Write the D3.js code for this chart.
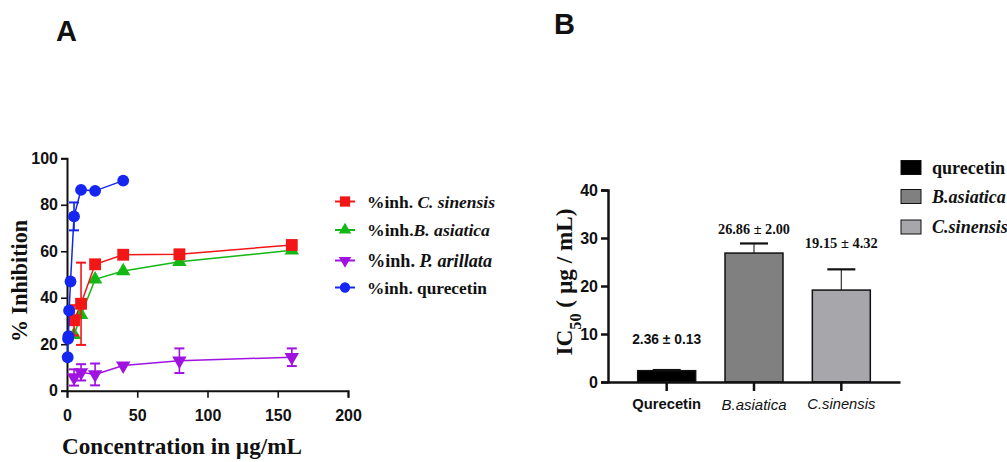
<!DOCTYPE html>
<html>
<head>
<meta charset="utf-8">
<script src="https://cdn.jsdelivr.net/npm/d3@7"></script>
<style>
  body { margin: 0; background: #fff; }
  svg { display: block; }
  .tick text { font-family: 'Liberation Sans Narrow', 'Liberation Sans', Arial, sans-serif; font-weight: bold; font-size: 16px; fill: #111; }
  .serif { font-family: 'Liberation Serif', 'Times New Roman', Times, 'DejaVu Serif', serif; font-weight: bold; fill: #111; }
  .narrow { font-family: 'Liberation Sans Narrow', 'Liberation Sans', Arial, sans-serif; fill: #111; }
</style>
</head>
<body>
<svg id="chart" width="1007" height="462"></svg>
<script>
// ---- panel A data: % inhibition vs concentration ----
const quercetinX = [0.5, 0.75, 1, 1.5, 2.5, 5, 10, 20, 40];
const quercetinY = [14.4, 22.3, 23.5, 34.5, 47, 75, 86.4, 86, 90.4];
const quercetinErr = [0, 0, 0, 0, 0, 6, 0, 0, 0];

const sinensisX = [5, 10, 20, 40, 80, 160];
const sinensisY = [30.3, 37.4, 54.4, 58.5, 58.7, 62.7];
const sinensisErr = [6.5, 17.7, 0, 0, 0, 0];

const asiaticaX = [5, 10, 20, 40, 80, 160];
const asiaticaY = [24, 32.6, 47.9, 51.5, 55.5, 60.4];
const asiaticaErr = [0, 0, 0, 0, 0, 0];

const arillataX = [5, 10, 20, 40, 80, 160];
const arillataY = [5.7, 7.9, 7.0, 10.8, 12.9, 14.4];
const arillataErr = [3.5, 3.5, 4.7, 0, 5.3, 3.8];

const xTicksA = [0, 50, 100, 150, 200];
const yTicksA = [0, 20, 40, 60, 80, 100];

// ---- panel B data: IC50 ----
const ic50Names = ['Qurecetin', 'B.asiatica', 'C.sinensis'];
const ic50Values = [2.36, 26.86, 19.15];
const ic50Err = [0.13, 2.00, 4.32];
const ic50Labels = ['2.36 \u00b1 0.13', '26.86 \u00b1 2.00', '19.15 \u00b1 4.32'];
const ic50Legend = ['qurecetin', 'B.asiatica', 'C.sinensis'];
const yTicksB = [0, 10, 20, 30, 40];

const svg = d3.select('#chart');

// scale the font so the text takes the width it has in the picture
function fit(sel, w) {
  const node = sel.node();
  const fs = parseFloat(sel.style('font-size'));
  const len = node.getComputedTextLength();
  if (len > 0) sel.style('font-size', (fs * w / len).toFixed(2) + 'px');
  return sel;
}

// ================= Panel A =================
const xA = d3.scaleLinear().domain([0, 200]).range([67, 348]);
const yA = d3.scaleLinear().domain([0, 100]).range([390.7, 158.3]);

svg.append('text').attr('x', 56).attr('y', 41)
  .attr('class', 'narrow').style('font-weight', 'bold').style('font-size', '29px').text('A');

const axA = svg.append('g').attr('transform', 'translate(0,390.7)')
  .call(d3.axisBottom(xA).tickValues(xTicksA).tickSize(7).tickPadding(12));
const ayA = svg.append('g').attr('transform', 'translate(67,0)')
  .call(d3.axisLeft(yA).tickValues(yTicksA).tickSize(6).tickPadding(3));
[axA, ayA].forEach(g => {
  g.select('.domain').attr('stroke', '#111').attr('stroke-width', 2);
  g.selectAll('.tick line').attr('stroke', '#111').attr('stroke-width', 1.6);
});

fit(svg.append('text').attr('class', 'serif')
  .attr('transform', 'translate(27,281) rotate(-90)')
  .attr('text-anchor', 'middle').style('font-size', '19px').text('% Inhibition'), 122);

fit(svg.append('text').attr('class', 'serif').attr('x', 182).attr('y', 454)
  .attr('text-anchor', 'middle').style('font-size', '18px').text('Concentration in \u00b5g/mL'), 240);

const seriesA = [
  {xs: sinensisX, ys: sinensisY, err: sinensisErr, color: '#f21616', shape: d3.symbolSquare, size: 140, rot: 0},
  {xs: asiaticaX, ys: asiaticaY, err: asiaticaErr, color: '#14b814', shape: d3.symbolTriangle, size: 90, rot: 0},
  {xs: arillataX, ys: arillataY, err: arillataErr, color: '#a012e0', shape: d3.symbolTriangle, size: 90, rot: 180},
  {xs: quercetinX, ys: quercetinY, err: quercetinErr, color: '#1426f0', shape: d3.symbolCircle, size: 110, rot: 0}
];
// purple, green, red, blue so the overlaps stack as in the reference
[2, 1, 0, 3].forEach(i => {
  const s = seriesA[i];
  const pts = s.xs.map((x, k) => ({x: x, y: s.ys[k], e: s.err[k]}));
  const g = svg.append('g');
  g.append('path').datum(pts)
    .attr('fill', 'none').attr('stroke', s.color).attr('stroke-width', 1.5)
    .attr('d', d3.line().x(d => xA(d.x)).y(d => yA(d.y)));
  pts.filter(d => d.e > 0).forEach(d => {
    const cx = xA(d.x);
    g.append('line').attr('x1', cx).attr('x2', cx)
      .attr('y1', yA(d.y - d.e)).attr('y2', yA(d.y + d.e))
      .attr('stroke', s.color).attr('stroke-width', 1.6);
    [d.y - d.e, d.y + d.e].forEach(v => {
      g.append('line').attr('x1', cx - 5).attr('x2', cx + 5)
        .attr('y1', yA(v)).attr('y2', yA(v))
        .attr('stroke', s.color).attr('stroke-width', 2);
    });
  });
  g.selectAll('path.mk').data(pts).enter().append('path').attr('class', 'mk')
    .attr('d', d3.symbol().type(s.shape).size(s.size))
    .attr('transform', d => `translate(${xA(d.x)},${yA(d.y)}) rotate(${s.rot})`)
    .attr('fill', s.color);
});

// legend A
const legRowsA = [
  {pre: '%inh. ', it: 'C. sinensis', w: 128},
  {pre: '%inh.', it: 'B. asiatica', w: 123},
  {pre: '%inh. ', it: 'P. arillata', w: 125},
  {pre: '%inh. qurecetin', it: '', w: 120}
];
const legY = [201.5, 230, 260.5, 287.5];
legRowsA.forEach((r, i) => {
  const s = seriesA[i];
  const y = legY[i];
  svg.append('line').attr('x1', 335).attr('x2', 355).attr('y1', y).attr('y2', y)
    .attr('stroke', s.color).attr('stroke-width', 2);
  svg.append('path').attr('d', d3.symbol().type(s.shape).size(s.size * 0.75))
    .attr('transform', `translate(345,${y}) rotate(${s.rot})`).attr('fill', s.color);
  const t = svg.append('text').attr('class', 'serif').attr('x', 367).attr('y', y + 6)
    .style('font-size', '17px');
  t.append('tspan').text(r.pre);
  if (r.it) t.append('tspan').style('font-style', 'italic').text(r.it);
  fit(t, r.w);
});

// ================= Panel B =================
svg.append('text').attr('x', 554).attr('y', 33.5)
  .attr('class', 'narrow').style('font-weight', 'bold').style('font-size', '29px').text('B');

const xB = d3.scaleBand().domain(ic50Names).range([608, 900]).paddingInner(0.336).paddingOuter(0.34);
const yB = d3.scaleLinear().domain([0, 40]).range([382, 190]);
const fills = ['#000000', '#808080', '#a7a7ab'];

// bars with upper error bars
ic50Names.forEach((n, i) => {
  const x0 = xB(n), bw = xB.bandwidth(), cx = x0 + bw / 2;
  const top = yB(ic50Values[i] + ic50Err[i]);
  svg.append('line').attr('x1', cx).attr('x2', cx).attr('y1', yB(ic50Values[i])).attr('y2', top)
    .attr('stroke', '#333').attr('stroke-width', 1.2);
  svg.append('line').attr('x1', cx - 14).attr('x2', cx + 14).attr('y1', top).attr('y2', top)
    .attr('stroke', '#111').attr('stroke-width', 2.2);
  svg.append('rect').attr('x', x0).attr('y', yB(ic50Values[i]))
    .attr('width', bw).attr('height', yB(0) - yB(ic50Values[i]))
    .attr('fill', fills[i]).attr('stroke', '#111').attr('stroke-width', 1.5);
});

const axB = svg.append('g').attr('transform', 'translate(0,382)')
  .call(d3.axisBottom(xB).tickSize(9).tickPadding(8).tickSizeOuter(0));
axB.select('.domain').attr('stroke', '#111').attr('stroke-width', 2.5);
axB.selectAll('.tick line').attr('stroke', '#111').attr('stroke-width', 2.5);
const catW = [69, 65, 68];
axB.selectAll('.tick text')
  .style('font-weight', (d, i) => i === 0 ? 'bold' : 'normal')
  .style('font-style', (d, i) => i === 0 ? 'normal' : 'italic')
  .style('font-family', (d, i) => i === 0 ? null : "'Liberation Sans', Arial, sans-serif")
  .style('font-size', '15px')
  .each(function (d, i) { fit(d3.select(this), catW[i]); });

const ayB = svg.append('g').attr('transform', 'translate(608,0)')
  .call(d3.axisLeft(yB).tickValues(yTicksB).tickSize(7).tickPadding(3));
ayB.select('.domain').attr('stroke', '#111').attr('stroke-width', 2.5);
ayB.selectAll('.tick line').attr('stroke', '#111').attr('stroke-width', 2.5);

// value labels above the bars
const labY = [344, 234, 248];
const labW = [69, 72, 73];
ic50Names.forEach((n, i) => {
  fit(svg.append('text').attr('x', xB(n) + xB.bandwidth() / 2).attr('y', labY[i])
    .attr('text-anchor', 'middle')
    .attr('class', i === 0 ? 'narrow' : 'serif')
    .style('font-weight', 'bold').style('font-size', '15px')
    .text(ic50Labels[i]), labW[i]);
});

// y title with subscript
const yt = svg.append('text').attr('class', 'serif')
  .attr('transform', 'translate(572,282) rotate(-90)')
  .attr('text-anchor', 'middle').style('font-size', '20px');
yt.append('tspan').text('IC');
yt.append('tspan').attr('baseline-shift', 'sub').style('font-size', '0.7em').text('50');
yt.append('tspan').text(' ( \u00b5g / mL)');
fit(yt, 147);

// legend B
const legYB = [167.5, 196.5, 227];
ic50Legend.forEach((n, i) => {
  svg.append('rect').attr('x', 901).attr('y', legYB[i] - 7).attr('width', 20).attr('height', 14)
    .attr('fill', fills[i]).attr('stroke', '#111').attr('stroke-width', 1);
  const t = svg.append('text').attr('class', 'serif').attr('x', 932).attr('y', legYB[i] + 6)
    .style('font-size', '17px').style('font-style', i === 0 ? 'normal' : 'italic').text(n);
  if (i === 0) fit(t, 73);
  else t.style('font-size', svg.select('text:last-child').style('font-size'));
});
// keep the three legend labels at the same size
const legFs = svg.selectAll('text').filter(function () { return d3.select(this).text() === 'qurecetin'; }).style('font-size');
svg.selectAll('text').filter(function () { return ['B.asiatica', 'C.sinensis'].includes(d3.select(this).text()) && d3.select(this).attr('x') === '932'; })
  .style('font-size', legFs);
</script>
</body>
</html>
